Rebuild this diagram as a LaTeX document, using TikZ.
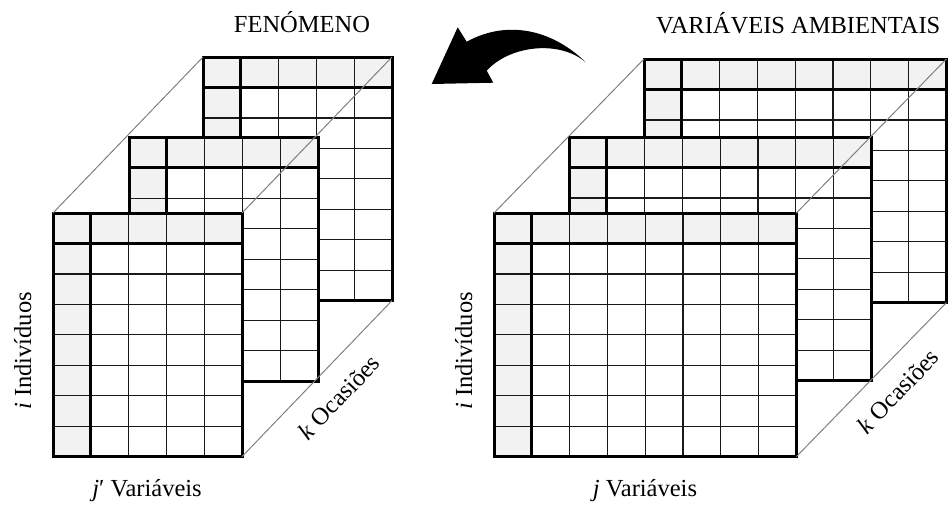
\documentclass[tikz,border=0pt]{standalone}
\usepackage{fontspec}
\setmainfont{Liberation Serif}
\definecolor{hdr}{HTML}{F2F2F2}
\tikzset{
  gridthin/.style={line width=1.25pt, draw=black!90},
  gridthick/.style={line width=3pt, draw=black},
  diag/.style={line width=1pt, draw=black!50},
  lbl/.style={font=\fontsize{24.5}{29}\selectfont, inner sep=0pt},
  bigarrow/.style={fill=black},
}
\newcommand\gridpanel[4]{%
\begin{scope}[shift={(#1,#2)}]
  \pgfmathsetmacro\pw{#3*37.8}
  \pgfmathsetmacro\ph{8*30.45}
  \fill[white] (0,0) rectangle (\pw,\ph);
  \fill[hdr] (0,0) rectangle (\pw,30.45);
  \fill[hdr] (0,0) rectangle (37.8,\ph);
  \pgfmathtruncatemacro\nlast{#3-1}
  \foreach \c in {2,...,\nlast} \draw[gridthin] ({\c*37.8},0) -- ({\c*37.8},\ph);
  \foreach \r in {2,...,7} \draw[gridthin] (0,{\r*30.45}) -- (\pw,{\r*30.45});
  \draw[gridthick] (37.8,0) -- (37.8,\ph);
  \draw[gridthick] (0,30.45) -- (\pw,30.45);
  \draw[gridthick] (0,0) rectangle (\pw,\ph);
  \coordinate (#4-nw) at (0,0);
  \coordinate (#4-ne) at (\pw,0);
  \coordinate (#4-se) at (\pw,\ph);
\end{scope}}
\begin{document}
\begin{tikzpicture}[x=1pt,y=-1pt]
\useasboundingbox (0,0) rectangle (949,504);
% left cube
\gridpanel{203}{57}{5}{Lb}
\gridpanel{129}{137.5}{5}{Lm}
\gridpanel{53}{213}{5}{Lf}
\draw[diag] (Lf-nw) -- (Lb-nw);
\draw[diag] (Lf-ne) -- (Lb-ne);
\draw[diag] (Lf-se) -- (Lb-se);
% right cube
\gridpanel{644}{59}{8}{Rb}
\gridpanel{569}{137}{8}{Rm}
\gridpanel{494}{213}{8}{Rf}
\draw[diag] (Rf-nw) -- (Rb-nw);
\draw[diag] (Rf-ne) -- (Rb-ne);
\draw[diag] (Rf-se) -- (Rb-se);
% arrow
\fill[bigarrow] (585.7,62.3) .. controls (555,32) and (510,18) .. (466.7,41.7)
  -- (457.7,27.3) -- (431.7,84) -- (493.3,82.7) -- (486.7,70.7)
  .. controls (510,45) and (560,40) .. (585.7,62.3) -- cycle;
% labels
\node[lbl, anchor=base] (fen) at (302,32) {FENÓMENO};
\node[lbl, anchor=base west] (amb) at (656,33) {VARIÁVEIS AMBIENTAIS};
\node[lbl, anchor=base, rotate=90] (indL) at (31,351) {\textit{i} Indivíduos};
\node[lbl, anchor=base, rotate=90] (indR) at (472,351) {\textit{i} Indivíduos};
\node[lbl, anchor=base] (varL) at (147,496) {\textit{j}′ Variáveis};
\node[lbl, anchor=base] (varR) at (645,496) {\textit{j} Variáveis};
\node[lbl, rotate=46.5] (ocL) at (339,397) {\textit{k} Ocasiões};
\node[lbl, rotate=46.4] (ocR) at (898,391) {\textit{k} Ocasiões};
\end{tikzpicture}
\end{document}
